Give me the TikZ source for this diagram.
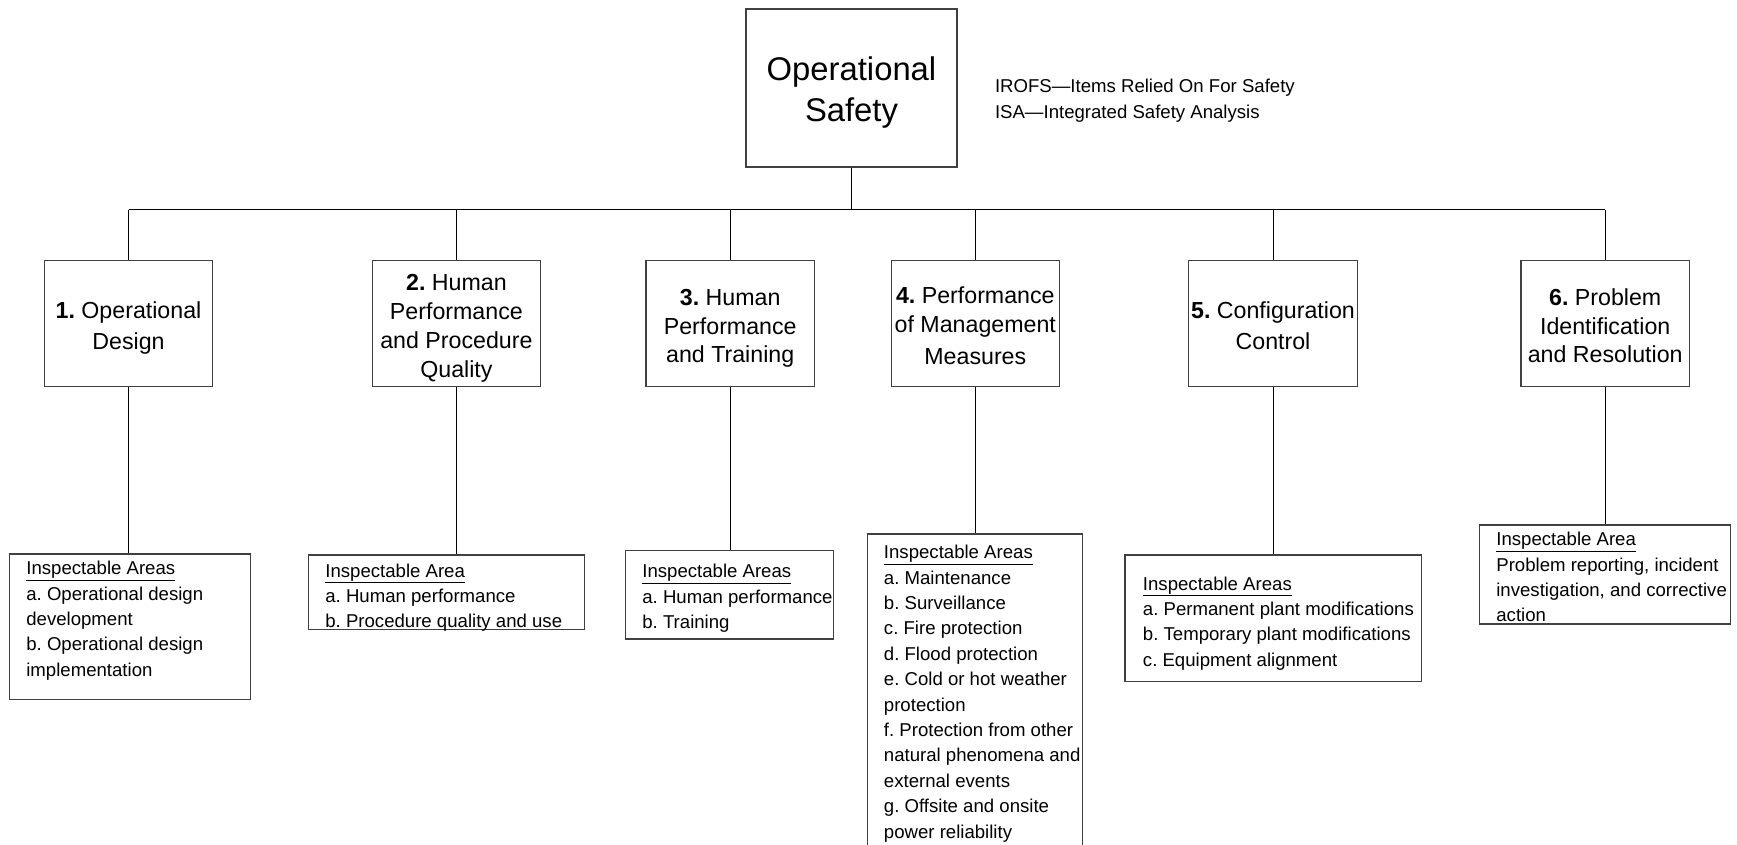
\documentclass[tikz,border=0pt]{standalone}
\usepackage{fontspec}
\setmainfont{Liberation Sans}
\usetikzlibrary{positioning}
\frenchspacing
\newcommand{\topstrut}{\rule[-7pt]{0pt}{40.1pt}}
\newcommand{\boxstrut}{\rule[-5pt]{0pt}{30.8pt}}
\newcommand{\toptext}[1]{\topstrut#1\topstrut}
\newcommand{\boxtext}[1]{\boxstrut#1\boxstrut}
\tikzset{
  mainbox/.style={draw=black!75, line width=1.1pt, minimum width=211pt, minimum height=158pt,
    align=center, inner sep=0pt, font=\fontsize{32.8}{40}\selectfont},
  topicbox/.style={draw=black!75, line width=1.1pt, minimum width=168.5pt, minimum height=126pt,
    align=center, inner sep=0pt, font=\fontsize{23.2}{28.8}\selectfont},
  areabox/.style={draw=black!75, line width=1.1pt, inner sep=0pt},
  areatext/.style={align=left, inner sep=0pt, font=\fontsize{18.6}{25.4}\selectfont},
  link/.style={draw=black, line width=1pt}
}
\begin{document}
\begin{tikzpicture}[x=1pt, y=-1pt]
    \useasboundingbox (0,0) rectangle (1737,845);
    \node[mainbox] (safety) at (851.5,88) {\toptext{Operational\\Safety}};
    \node[areatext, anchor=north west] (legend) at (994.8,79.2) {IROFS---Items Relied On For Safety\\ISA---Integrated Safety Analysis};
    \coordinate (bus) at (0,209.7);

    \node[topicbox] (design) at (128.5,323.6) {\boxtext{\textbf{1.} Operational\\Design}};
    \node[topicbox] (procedure) at (456.4,323.6) {\boxtext{\textbf{2.} Human\\Performance\\and Procedure\\Quality}};
    \node[topicbox] (training) at (730.2,323.6) {\boxtext{\textbf{3.} Human\\Performance\\and Training}};
    \node[topicbox] (measures) at (975.3,323.6) {\boxtext{\textbf{4.} Performance\\of Management\\Measures}};
    \node[topicbox] (config) at (1273,323.6) {\boxtext{\textbf{5.} Configuration\\Control}};
    \node[topicbox] (problem) at (1605.2,323.6) {\boxtext{\textbf{6.} Problem\\Identification\\and Resolution}};

    \node[areabox, minimum width=241.4pt, minimum height=145.3pt] (designarea) at (130,626.65) {};
    \node[areabox, minimum width=276pt, minimum height=74.3pt] (procarea) at (446.3,592.15) {};
    \node[areabox, minimum width=207.6pt, minimum height=88.3pt] (trainarea) at (729.5,594.85) {};
    \node[areabox, minimum width=215pt, minimum height=318pt] (measarea) at (974.8,693) {};
    \node[areabox, minimum width=296.7pt, minimum height=126.7pt] (configarea) at (1273.35,618.35) {};
    \node[areabox, minimum width=251.4pt, minimum height=99pt] (probarea) at (1605,574.5) {};

    \node[areatext, below right=7.5pt and 17.4pt of designarea.north west] (designlist)
      {\underline{Inspectable Areas}\\a. Operational design\\development\\b. Operational design\\implementation};
    \node[areatext, below right=9pt and 17.4pt of procarea.north west] (proclist)
      {\underline{Inspectable Area}\\a. Human performance\\b. Procedure quality and use};
    \node[areatext, below right=14pt and 17pt of trainarea.north west] (trainlist)
      {\underline{Inspectable Areas}\\a. Human performance\\b. Training};
    \node[areatext, below right=11.5pt and 17pt of measarea.north west] (measlist)
      {\underline{Inspectable Areas}\\a. Maintenance\\b. Surveillance\\c. Fire protection\\d. Flood protection\\e. Cold or hot weather\\protection\\f. Protection from other\\natural phenomena and\\external events\\g. Offsite and onsite\\power reliability};
    \node[areatext, below right=22pt and 18.3pt of configarea.north west] (configlist)
      {\underline{Inspectable Areas}\\a. Permanent plant modifications\\b. Temporary plant modifications\\c. Equipment alignment};
    \node[areatext, below right=7.5pt and 17.4pt of probarea.north west] (problist)
      {\underline{Inspectable Area}\\Problem reporting, incident\\investigation, and corrective\\action};

    \draw[link] (safety.south) -- (safety.south |- bus);
    \draw[link] (design.north |- bus) -- (problem.north |- bus);
    \draw[link] (design.north |- bus) -- (design.north);
    \draw[link] (procedure.north |- bus) -- (procedure.north);
    \draw[link] (training.north |- bus) -- (training.north);
    \draw[link] (measures.north |- bus) -- (measures.north);
    \draw[link] (config.north |- bus) -- (config.north);
    \draw[link] (problem.north |- bus) -- (problem.north);

    \draw[link] (design.south) -- (design.south |- designarea.north);
    \draw[link] (procedure.south) -- (procedure.south |- procarea.north);
    \draw[link] (training.south) -- (training.south |- trainarea.north);
    \draw[link] (measures.south) -- (measures.south |- measarea.north);
    \draw[link] (config.south) -- (config.south |- configarea.north);
    \draw[link] (problem.south) -- (problem.south |- probarea.north);
\end{tikzpicture}
\end{document}
